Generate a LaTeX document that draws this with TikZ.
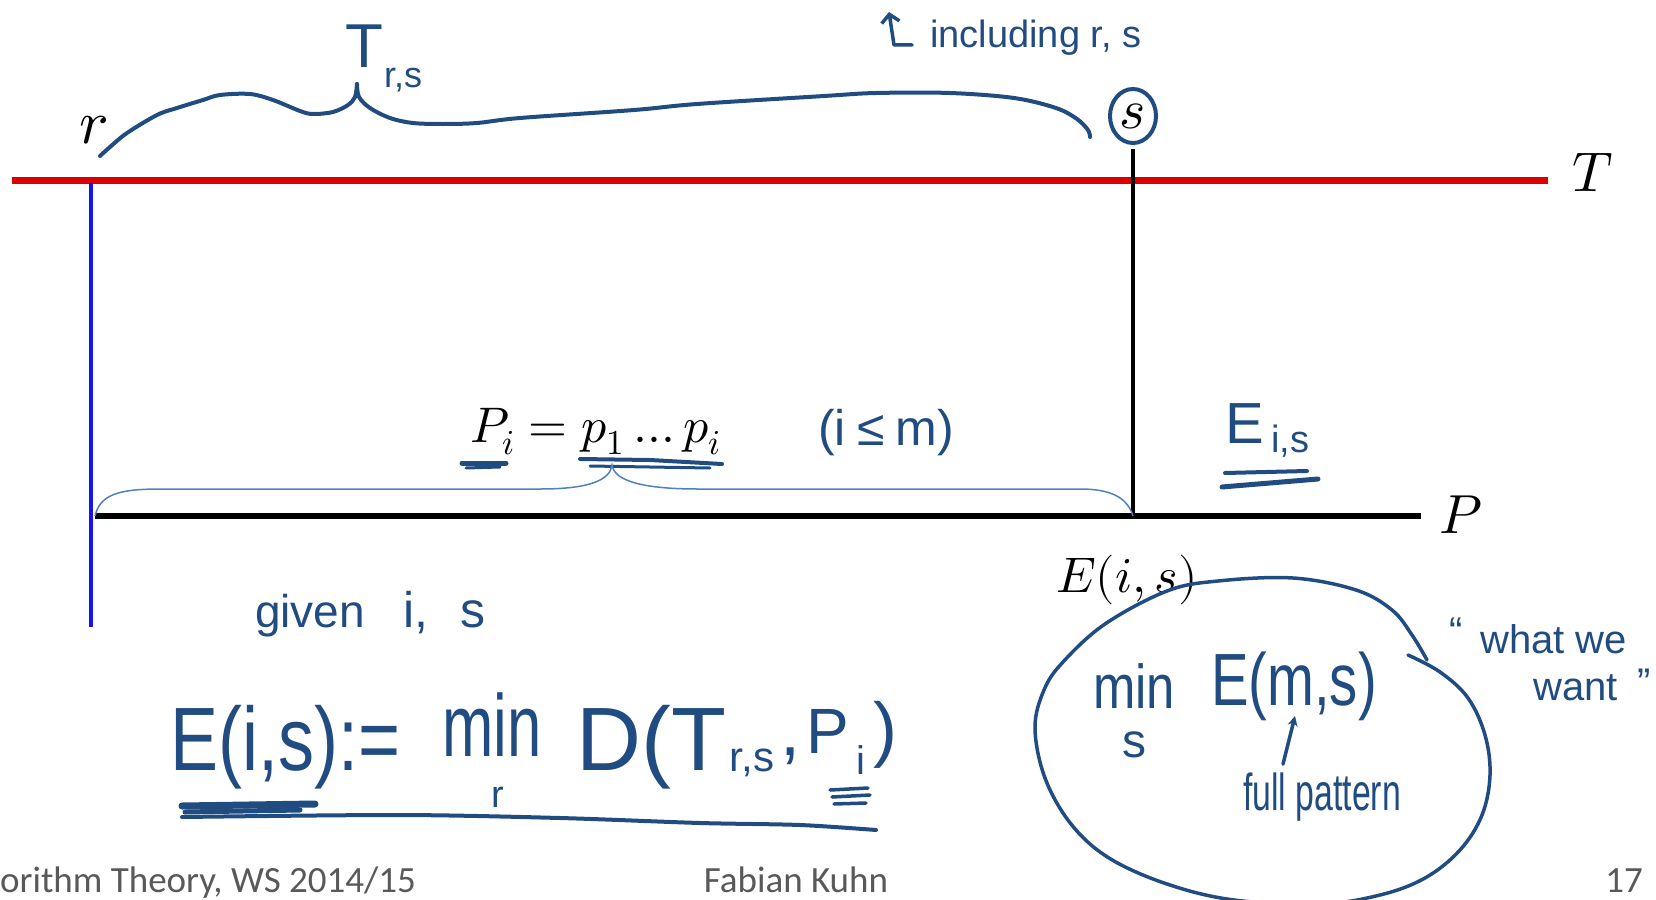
\documentclass[tikz,border=0pt]{standalone}
\usepackage{fontspec}
\usepackage{unicode-math}
\setmathfont{Latin Modern Math}
\newfontfamily\handfont{Liberation Sans}
\newfontfamily\footfont{Carlito}
\usetikzlibrary{arrows.meta,shapes.geometric}
\definecolor{pen}{RGB}{32,76,130}
\definecolor{tred}{RGB}{218,0,0}
\definecolor{bblue}{RGB}{20,20,240}
\definecolor{lbr}{RGB}{79,129,189}
\definecolor{footgray}{RGB}{89,89,89}
\newcommand\fsz[1]{\fontsize{#1}{#1}\selectfont}
\begin{document}
\begin{tikzpicture}[x=1pt,y=-1pt,
  hand/.style={text=pen, inner sep=0pt, font=\handfont},
  mlbl/.style={inner sep=0pt},
  penline/.style={draw=pen, line width=4pt, line cap=round, line join=round},
  lbrace/.style={draw=lbr, line width=1.5pt},
  foot/.style={text=footgray, inner sep=0pt, font=\footfont\fsz{37}}]
\useasboundingbox (0,0) rectangle (1656,899);

% main lines
\coordinate (Tl) at (12,180);
\coordinate (Tr) at (1548,180);
\draw[draw=tred, line width=7pt] (Tl) -- (Tr);
\node[mlbl] (Tlab) at (1593,173) {\fsz{56}$T$};

\coordinate (Bt) at (91,183);
\coordinate (Bb) at (91,627);
\draw[draw=bblue, line width=4.5pt] (Bt) -- (Bb);

\coordinate (Pl) at (95,516);
\coordinate (Pr) at (1421,516);
\draw[line width=6pt] (Pl) -- (Pr);
\node[mlbl] (Plab) at (1461,515) {\fsz{55}$P$};

\node[draw=pen, line width=4pt, ellipse, minimum width=46pt, minimum height=54pt, inner sep=0pt] (s) at (1133,116) {\fsz{56}$s$};
\coordinate (sP) at (s.south |- Pl);
\draw[line width=4.5pt] ([yshift=-4pt]s.south) -- (sP);

\node[mlbl] (r) at (94,130) {\fsz{62}$r$};

% handwritten brace over T
\draw[penline] plot[smooth, tension=0.55] coordinates {(100,156) (110,147) (127,133) (157,115) (177,108) (203,100) (220,95) (250,94) (273,100) (300,111) (313,114) (333,112) (348,105) (355,97) (357,84)};
\draw[penline] plot[smooth, tension=0.55] coordinates {(357,84) (359,97) (370,108) (390,118) (413,123) (443,124) (477,123) (520,118) (634,110) (697,104) (824,96) (876,93) (950,93) (1014,98) (1056,108) (1077,119) (1088,130) (1090,137)};
\node[hand] (Trs) at (364,46) {\fsz{62}T};
\node[hand] (Trssub) at (403,80) {\fsz{36}r,s};

% including r, s
\coordinate (ia) at (912,45);
\coordinate (ib) at (894,45);
\coordinate (ic) at (889,12);
\draw[penline, line width=3.5pt, -{Straight Barb[length=8pt,width=18pt,line width=3.5pt]}] (ia) -- (ib) -- (ic);
\node[hand, anchor=base west] (incl) at (930,48) {\fsz{38}including r, s};

% P_i
\node[mlbl, anchor=base west] (Pi) at (470,442) {\fsz{50}$P_i = p_1 \ldots p_i$};
\draw[penline, line width=5pt] (462,463) -- (506,463);
\draw[penline, line width=3pt] (466,468) -- (500,467);
\draw[penline, line width=4pt] (580,459) -- (650,460) -- (722,464);
\draw[penline, line width=3pt] (590,466) -- (710,468);
\node[hand, anchor=base west] (ism) at (818,445) {\fsz{50}(i\hspace{12pt}≤\hspace{10pt}m)};

% light brace under P_i
\draw[lbrace] (Pl) .. controls (100,496) and (115,489) .. (160,489) -- (540,489)
  .. controls (590,489) and (610,480) .. (612,465)
  .. controls (614,480) and (640,489) .. (698,489) -- (1080,489)
  .. controls (1115,489) and (1128,500) .. (sP);

% E_{i,s}
\node[hand] (Eis) at (1245,424) {\fsz{58}E};
\node[hand] (Eissub) at (1290,441) {\fsz{38}i,s};
\draw[penline] (1225,473) -- (1307,471);
\draw[penline, line width=5pt] (1222,487) -- (1318,479);

% E(i,s) label
\node[mlbl, anchor=base west] (Eisl) at (1056,592) {\fsz{50}$E(i,s)$};

% ellipse
\draw[penline, line width=3.5pt] plot[smooth, tension=0.6] coordinates {(1408,655) (1440,672) (1468,698) (1485,735) (1490,775) (1482,815) (1460,850) (1425,878) (1380,895) (1320,904) (1234,900) (1167,884) (1109,858) (1071,824) (1045,778) (1035,728) (1044,690) (1063,662) (1105,624) (1167,591) (1218,581) (1293,578) (1356,590) (1392,610) (1412,635) (1427,660)};
\node[hand, anchor=base] (mins) at (1134,708) {\fsz{62}\scalebox{0.82}[1]{min}};
\node[hand] (minsub) at (1134,745) {\fsz{48}s};
\node[hand, anchor=base west] (Ems) at (1211,705) {\fsz{74}\scalebox{0.76}[1]{E(m,s)}};
\node[hand, anchor=base west] (full) at (1243,810) {\fsz{52}\scalebox{0.65}[1]{full pattern}};
\draw[penline, line width=3.5pt, -{Stealth[length=10pt,width=10pt]}] (full.north -| 1283,0) ++(0,-8) -- (1295,716);

% what we want
\node[hand, anchor=base] (q1) at (1456,645) {\fsz{40}“};
\node[hand, anchor=base west] (ww) at (1480,653) {\fsz{40}what we};
\node[hand, anchor=base west] (wt) at (1533,700) {\fsz{40}want};
\node[hand, anchor=base] (q2) at (1644,696) {\fsz{40}”};

% given i, s
\node[hand, anchor=base west] (given) at (255,627) {\fsz{46}given};
\node[hand, anchor=base west] (gis) at (403,627) {\fsz{50}i,\hspace{32pt}s};

% big formula
\node[hand, anchor=base west] (F1) at (170,770) {\fsz{90}\scalebox{0.8}[1]{E(i,s):=}};
\node[hand, anchor=base west] (F2) at (442,756) {\fsz{88}\scalebox{0.7}[1]{min}};
\node[hand] (F2s) at (498,797) {\fsz{38}r};
\node[hand, anchor=base west] (F3) at (576,770) {\fsz{90}D(T};
\node[hand] (F3s) at (752,763) {\fsz{42}r,s};
\node[hand, anchor=base west] (F4) at (780,755) {\fsz{72},};
\node[hand, anchor=base west] (F5) at (806,753) {\fsz{64}P};
\node[hand] (F5s) at (861,760) {\fsz{40}i};
\node[hand, anchor=base west] (F6) at (873,753) {\fsz{72})};
\draw[penline, line width=7pt] (182,806) -- (315,804);
\draw[penline, line width=5pt] (185,812) -- (300,810);
\draw[penline] plot[smooth] coordinates {(182,817) (400,815) (560,818) (700,823) (800,825) (876,830)};
\draw[penline, line width=3.5pt] (830,790) -- (868,788);
\draw[penline, line width=3.5pt] (832,797) -- (870,795);
\draw[penline, line width=3.5pt] (834,804) -- (866,803);

% footer
\node[foot, anchor=base west] (f1) at (0,892) {orithm Theory, WS 2014/15};
\node[foot, anchor=base] (f2) at (796,892) {Fabian Kuhn};
\node[foot, anchor=base east] (f3) at (1643,892) {17};
\end{tikzpicture}
\end{document}
